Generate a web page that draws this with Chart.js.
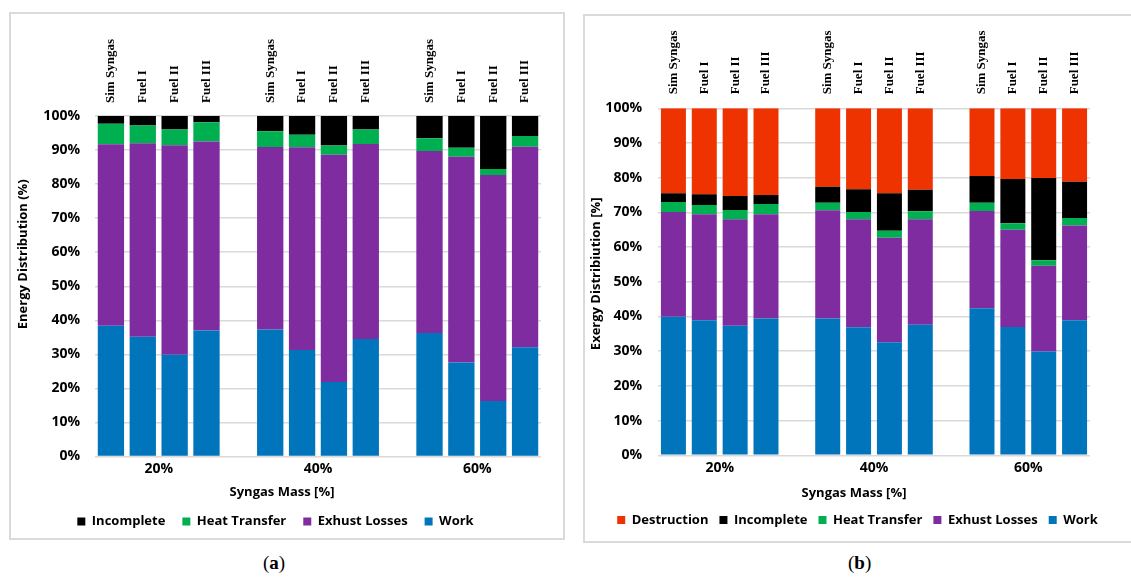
<!DOCTYPE html>
<html>
<head>
<meta charset="utf-8">
<script src="https://cdn.jsdelivr.net/npm/chart.js@4/dist/chart.umd.min.js"></script>
<style>
  body { margin: 0; width: 1131px; height: 577px; background: #fff; position: relative; overflow: hidden; }
  .box { position: absolute; border: 2px solid #dadada; box-sizing: border-box; }
  canvas { position: absolute; }
  .cap { position: absolute; top: 552px; font-family: 'Liberation Serif', serif; font-size: 19px; color: #000; }
</style>
</head>
<body>
<div class="box" style="left:9px; top:12px; width:556px; height:528px;"></div>
<div class="box" style="left:583px; top:14px; width:560px; height:529px;"></div>
<canvas id="energyChart" width="553" height="525" style="left:10px; top:13px;"></canvas>
<canvas id="exergyChart" width="547" height="526" style="left:584px; top:15px;"></canvas>
<div class="cap" style="left:263px;">(<b>a</b>)</div>
<div class="cap" style="left:848px;">(<b>b</b>)</div>

<script>
//fuels shown in each syngas mass group
const fuels = ['Sim Syngas', 'Fuel I', 'Fuel II', 'Fuel III'];
const massLabels = ['20%', '40%', '60%'];

//(a) energy distribution, order: 20% (Sim, I, II, III), 40% (...), 60% (...)
const workA = [38.4, 35.2, 29.9, 37.0, 37.3, 31.3, 21.9, 34.5, 36.3, 27.6, 16.3, 32.1];
const exhaustA = [53.3, 56.8, 61.5, 55.5, 53.6, 59.5, 66.7, 57.3, 53.4, 60.4, 66.4, 58.9];
const heatA = [6.0, 5.2, 4.6, 5.7, 4.6, 3.7, 2.7, 4.2, 3.8, 2.7, 1.7, 3.1];
const incompleteA = [2.3, 2.8, 4.0, 1.8, 4.5, 5.5, 8.7, 4.0, 6.5, 9.3, 15.6, 5.9];

//(b) exergy distribution, same order
const workB = [39.9, 38.9, 37.3, 39.4, 39.4, 36.9, 32.6, 37.6, 42.4, 37.0, 29.9, 38.9];
const exhaustB = [30.2, 30.6, 30.7, 30.1, 31.2, 31.1, 30.1, 30.4, 28.0, 28.0, 24.7, 27.3];
const heatB = [2.9, 2.6, 2.7, 2.9, 2.2, 2.1, 2.0, 2.3, 2.4, 1.9, 1.6, 2.2];
const incompleteB = [2.5, 3.1, 4.0, 2.6, 4.6, 6.6, 10.8, 6.2, 7.7, 12.7, 23.7, 10.4];
const destructionB = [24.5, 24.8, 25.3, 25.0, 22.6, 23.3, 24.5, 23.5, 19.5, 20.4, 20.1, 21.2];

const colors = {
    work: '#0075BC',
    exhaust: '#7E2CA0',
    heat: '#00B050',
    incomplete: '#000000',
    destruction: '#EE3300'
};

//empty slot between the mass groups
function withGaps(arr) {
    return [...arr.slice(0, 4), null, ...arr.slice(4, 8), null, ...arr.slice(8)];
}
const slotLabels = withGaps([...fuels, ...fuels, ...fuels]).map(v => v === null ? '' : v);

Chart.defaults.font.family = 'Open Sans';
Chart.defaults.color = '#000';

function ds(label, data, color, barPct) {
    return {
        label: label,
        data: withGaps(data),
        backgroundColor: color,
        borderWidth: 0,
        barPercentage: barPct,
        categoryPercentage: 1
    };
}

//moves an axis title by dx/dy (Excel titles are not centred on the plot)
function shiftTitles(shifts) {
    return {
        id: 'shiftTitles',
        afterLayout(chart) {
            Object.keys(shifts).forEach(id => {
                const s = chart.scales[id];
                if (!s || s._shifted) return;
                const orig = s.drawTitle;
                s.drawTitle = function() {
                    this.ctx.save();
                    this.ctx.translate(shifts[id][0], shifts[id][1]);
                    orig.call(this);
                    this.ctx.restore();
                };
                s._shifted = true;
            });
        }
    };
}

function buildOptions(L) {
    const scales = {
        x: {
            type: 'category',
            position: 'top',
            stacked: true,
            grid: { display: false, drawTicks: false },
            border: { display: false },
            ticks: {
                autoSkip: false,
                minRotation: 90,
                maxRotation: 90,
                padding: L.topPad,
                labelOffset: 15.6,
                font: { family: 'Liberation Serif', size: 13, weight: 'bold' }
            },
            afterFit: s => { s.height = L.topH; }
        },
        xg: {
            type: 'linear',
            position: 'bottom',
            offset: false,
            min: 0,
            max: 14,
            grid: { display: false, drawTicks: false },
            border: { display: false },
            afterBuildTicks: s => { s.ticks = [{ value: 2 }, { value: 7 }, { value: 12 }]; },
            ticks: {
                padding: L.xgPad,
                font: { size: 14, weight: 'bold' },
                callback: (v, i) => massLabels[i]
            },
            title: {
                display: true,
                text: 'Syngas Mass [%]',
                font: { size: 13, weight: 'bold' },
                padding: { top: 0, bottom: L.xTitlePb }
            },
            afterFit: s => { s.height = L.xgH; }
        },
        y: {
            stacked: true,
            min: 0,
            max: 100,
            grid: { color: '#d9d9d9', lineWidth: 1.5, drawTicks: false },
            border: { display: false },
            ticks: {
                stepSize: 10,
                padding: L.yPad,
                font: { size: 14, weight: 'bold' },
                callback: v => v + '%'
            },
            title: {
                display: true,
                text: L.yTitle,
                font: { size: 13, weight: 'bold' },
                padding: { top: L.yTitlePt, bottom: 0 }
            },
            afterFit: s => { s.width = L.yW; }
        }
    };
    if (L.rightW) {
        //blank strip on the right so the legend stays centred on the frame
        scales.yR = {
            type: 'linear', position: 'right', min: 0, max: 100,
            grid: { display: false, drawTicks: false }, border: { display: false }, ticks: { display: false },
            afterFit: s => { s.width = L.rightW; }
        };
    }
    return {
        responsive: false,
        animation: false,
        layout: { padding: { left: 0, top: 0, right: L.padRight, bottom: L.padBottom } },
        scales: scales,
        plugins: {
            legend: {
                position: 'bottom',
                reverse: true,
                labels: {
                    boxWidth: 8,
                    boxHeight: 8,
                    padding: L.legendPad,
                    font: { size: 13, weight: 'bold' }
                }
            },
            tooltip: { enabled: false }
        }
    };
}

//(a) energy
new Chart(document.getElementById('energyChart'), {
    type: 'bar',
    data: {
        labels: slotLabels,
        datasets: [
            ds('Work', workA, colors.work, 0.826),
            ds('Exhust Losses', exhaustA, colors.exhaust, 0.826),
            ds('Heat Transfer', heatA, colors.heat, 0.826),
            ds('Incomplete', incompleteA, colors.incomplete, 0.826)
        ]
    },
    options: buildOptions({
        yTitle: 'Energy Distribution (%)',
        topH: 103, topPad: 13,
        xgH: 41.5, xgPad: 4.6, xTitlePb: -2.3,
        yW: 85, yPad: 15, yTitlePt: 5,
        rightW: 0, padRight: 22, padBottom: 0,
        legendPad: 17
    }),
    plugins: [shiftTitles({ y: [0, -32], xg: [-36, 0] })]
});

//(b) exergy
new Chart(document.getElementById('exergyChart'), {
    type: 'bar',
    data: {
        labels: slotLabels,
        datasets: [
            ds('Work', workB, colors.work, 0.81),
            ds('Exhust Losses', exhaustB, colors.exhaust, 0.81),
            ds('Heat Transfer', heatB, colors.heat, 0.81),
            ds('Incomplete', incompleteB, colors.incomplete, 0.81),
            ds('Destruction', destructionB, colors.destruction, 0.81)
        ]
    },
    options: buildOptions({
        yTitle: 'Exergy Distribiution [%]',
        topH: 93.3, topPad: 14,
        xgH: 47.2, xgPad: 4.3, xTitlePb: 1.7,
        yW: 74, yPad: 16, yTitlePt: 4,
        rightW: 41, padRight: 0, padBottom: 4.5,
        legendPad: 11
    }),
    plugins: [shiftTitles({ y: [0, -8], xg: [-20, 0] })]
});
</script>
</body>
</html>
